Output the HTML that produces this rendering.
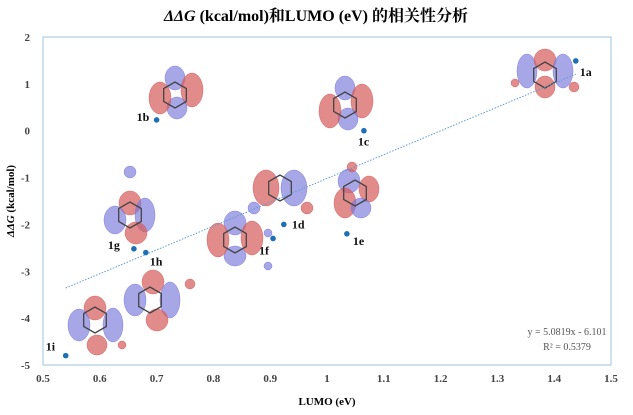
<!DOCTYPE html>
<html><head><meta charset="utf-8">
<style>
html,body{margin:0;padding:0;background:#fff;}
svg{display:block;font-family:"Liberation Serif","Noto Serif CJK SC",serif;}
</style></head>
<body>
<svg id="chart" width="633" height="415" viewBox="0 0 633 415">
<text x="316" y="21" text-anchor="middle" font-size="16" font-weight="bold"><tspan font-style="italic">ΔΔG</tspan> (kcal/mol)和LUMO (eV) 的相关性分析</text>
<rect x="43" y="37" width="568" height="328" fill="none" stroke="#9dc3e6" stroke-width="1"/>
<g id="molecules"></g>
<g id="axes"></g>
<g id="marks"></g>
<text x="14" y="201" transform="rotate(-90 14 201)" text-anchor="middle" font-size="11" font-weight="bold"><tspan font-style="italic">ΔΔG</tspan> (kcal/mol)</text>
<text x="327" y="405" text-anchor="middle" font-size="11" font-weight="bold">LUMO (eV)</text>
<text x="567" y="335" text-anchor="middle" font-size="10" fill="#555">y = 5.0819x - 6.101</text>
<text x="567" y="350" text-anchor="middle" font-size="10" fill="#555">R² = 0.5379</text>
</svg>
<script>
const labels = ["1a","1b","1c","1d","1e","1f","1g","1h","1i"];
const lumo = [1.438,0.70,1.065,0.924,1.035,0.905,0.66,0.681,0.54];
const ddg = [1.49,0.23,0.0,-2.0,-2.2,-2.3,-2.52,-2.6,-4.8];
const xTicks = [0.5,0.6,0.7,0.8,0.9,1,1.1,1.2,1.3,1.4,1.5];
const yTicks = [2,1,0,-1,-2,-3,-4,-5];
const slope = 5.0819, intercept = -6.101;

const NS="http://www.w3.org/2000/svg";
const X0=43,X1=611,Y0=37,Y1=365;
function sx(v){return X0+(v-0.5)/(1.0)*(X1-X0);}
function sy(v){return Y0+(2-v)/7*(Y1-Y0);}
function mk(tag,attrs,parent){const e=document.createElementNS(NS,tag);for(const k in attrs)e.setAttribute(k,attrs[k]);parent.appendChild(e);return e;}

const axes=document.getElementById('axes');
xTicks.forEach(t=>{
  const e=mk('text',{x:sx(t),y:382,'text-anchor':'middle','font-size':'11','font-weight':'bold',fill:'#444'},axes);
  
  
  e.textContent=String(t);
});
yTicks.forEach(t=>{
  const e=mk('text',{x:30,y:sy(t)+4,'text-anchor':'end','font-size':'11','font-weight':'bold',fill:'#444'},axes);
  
  
  e.textContent=String(t);
});

// molecules (decorative)
const mol=document.getElementById('molecules');
const R='rgba(214,90,90,0.7)',B='rgba(120,120,220,0.65)';
const mols=[
 [545,75,[[-18,-4,10,17,B],[0,-15,11,11,R],[18,-4,10,17,B],[0,12,10,11,R],[-30,8,4,4,R],[29,12,5,5,R]]],
 [175,95,[[0,-17,10,12,B],[17,-5,11,17,R],[2,13,10,11,B],[-15,3,11,16,R]]],
 [345,105,[[0,-17,10,12,B],[17,-4,11,17,R],[3,14,10,11,B],[-15,6,11,17,R]]],
 [280,188,[[-14,0,13,18,R],[14,0,13,18,B],[-26,20,6,6,B],[27,20,6,6,R]]],
 [355,193,[[-6,-12,11,12,B],[14,-4,10,13,R],[-10,10,11,15,R],[6,15,10,10,B],[-3,-26,5,5,R]]],
 [235,240,[[0,-17,11,12,B],[17,-2,11,17,R],[0,16,11,10,B],[-17,0,11,17,R],[33,-7,4,4,B],[33,26,4,4,B]]],
 [130,215,[[0,-12,11,12,R],[-15,5,11,14,B],[15,0,10,17,B],[6,18,11,11,R],[0,-43,6,6,B]]],
 [150,300,[[3,-18,11,12,R],[-15,0,11,16,B],[20,0,10,18,B],[7,20,11,11,R],[40,-16,5,5,R]]],
 [95,320,[[0,-12,11,12,R],[-16,5,11,16,B],[18,5,10,17,B],[2,25,10,10,R],[27,25,4,4,R]]]
];
mols.forEach(m=>{
  const g=mk('g',{},mol);
  m[2].forEach(l=>mk('ellipse',{cx:m[0]+l[0],cy:m[1]+l[1],rx:l[2],ry:l[3],fill:l[4],stroke:l[4].replace('0.7','0.9').replace('0.65','0.9'),'stroke-width':0.5},g));
  let pts=[];for(let i=0;i<6;i++){const a=Math.PI/3*i+Math.PI/6;pts.push((m[0]+13*Math.cos(a)).toFixed(1)+','+(m[1]+13*Math.sin(a)).toFixed(1));}
  mk('polygon',{points:pts.join(' '),fill:'none',stroke:'#444','stroke-width':1.3},g);
});

const marks=document.getElementById('marks');
const xa=Math.min(...lumo),xb=Math.max(...lumo);
const tl=mk('line',{x1:sx(xa),y1:sy(slope*xa+intercept),x2:sx(xb),y2:sy(slope*xb+intercept),stroke:'#5b9bd5','stroke-width':1,'stroke-dasharray':'1.5 1.5'},marks);


const lblOff=[[4,15],[-20,1],[-6,15],[8,4],[6,11],[-14,16],[-26,0],[4,13],[-20,-5]];
lumo.forEach((v,i)=>{
  const c=mk('circle',{cx:sx(v),cy:sy(ddg[i]),r:2.8,fill:'#1f6fb4'},marks);
  
  
  const t=mk('text',{x:sx(v)+lblOff[i][0],y:sy(ddg[i])+lblOff[i][1],'font-size':'12','font-weight':'bold',fill:'#111'},marks);
  
  
  t.textContent=labels[i];
});
</script>
</body></html>
